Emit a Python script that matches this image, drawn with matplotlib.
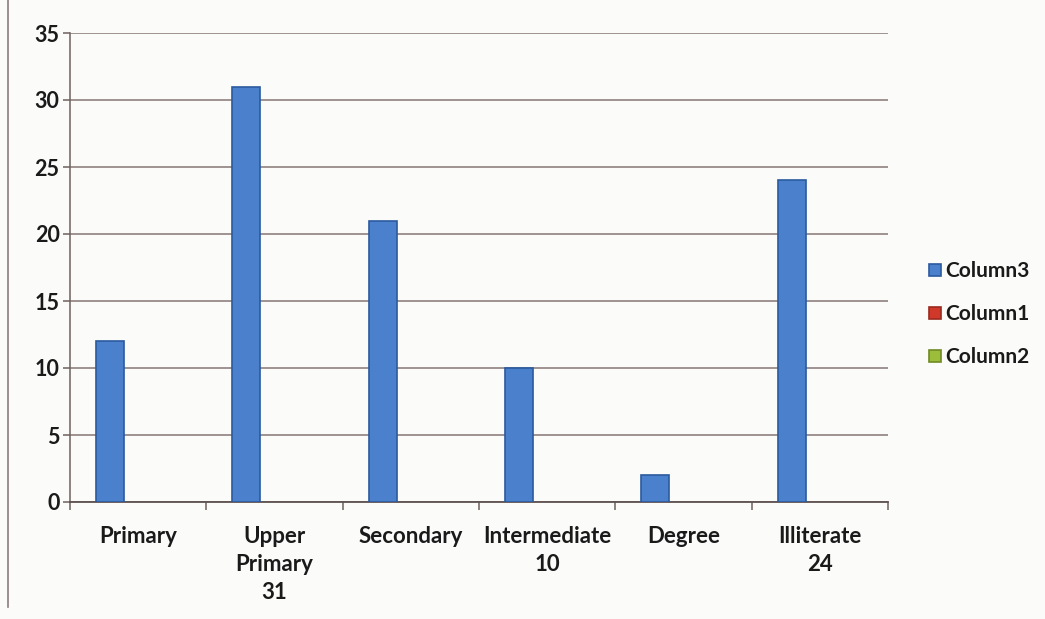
import matplotlib
matplotlib.use("Agg")
import matplotlib.pyplot as plt
from matplotlib.patches import Patch
import numpy as np

# Education level distribution
categories = ["Primary", "Upper\nPrimary\n31", "Secondary", "Intermediate\n10", "Degree", "Illiterate\n24"]
column3 = [12, 31, 21, 10, 2, 24]
column1 = [0, 0, 0, 0, 0, 0]
column2 = [0, 0, 0, 0, 0, 0]
series_names = ["Column3", "Column1", "Column2"]
yticks = [0, 5, 10, 15, 20, 25, 30, 35]

plt.rcParams["font.family"] = ["Lato", "DejaVu Sans"]

fig = plt.figure(figsize=(10.45, 6.19), dpi=100)
fig.patch.set_facecolor("#fbfbfa")
ax = fig.add_axes([70 / 1045, 1 - 502 / 619, 818 / 1045, 469 / 619])
ax.set_facecolor("#fbfbfa")

x = np.arange(len(categories))
w = 0.206
colors = ["#4a80cc", "#d0392a", "#9cbd3a"]
edges = ["#2b5a9e", "#9a2a1e", "#6f8a26"]
for i, vals in enumerate([column3, column1, column2]):
    bars = ax.bar(x - w + i * w, vals, width=w, color=colors[i], edgecolor=edges[i],
                  linewidth=1.2, zorder=3)
    for b, v in zip(bars, vals):
        if v == 0:
            b.set_visible(False)

ax.set_xlim(-0.5, len(categories) - 0.5)
ax.set_ylim(0, 35)
ax.set_yticks(yticks)
ax.set_yticklabels([str(v) for v in yticks], fontsize=15.5, fontweight="bold", color="#1a1a1a")
ax.yaxis.grid(True, color="#857674", linewidth=1.1, zorder=0)
ax.set_axisbelow(True)

ax.set_xticks(x)
ax.set_xticklabels(categories, fontsize=16, fontweight="bold", color="#1a1a1a",
                   linespacing=1.42, va="top")
ax.tick_params(axis="x", length=0, pad=17)
ax.set_xticks(np.arange(-0.5, len(categories), 1), minor=True)
ax.tick_params(axis="x", which="minor", length=6, width=1.1, color="#6e6260", direction="out")
ax.tick_params(axis="y", length=5, width=1.1, color="#6e6260", pad=2.5)

for s in ["top", "right"]:
    ax.spines[s].set_visible(False)
ax.spines["left"].set_color("#6e6260")
ax.spines["left"].set_linewidth(1.1)
ax.spines["bottom"].set_color("#5e5250")
ax.spines["bottom"].set_linewidth(1.3)

handles = [Patch(facecolor=c, edgecolor=e, linewidth=1.2) for c, e in zip(colors, edges)]
leg = fig.legend(handles, series_names, loc="upper left",
                 bbox_to_anchor=(919 / 1045, 1 - 251 / 619), borderpad=0,
                 frameon=False, fontsize=15, handlelength=0.55, handleheight=0.55,
                 handletextpad=0.2, labelspacing=1.1)
for t in leg.get_texts():
    t.set_fontweight("bold")
    t.set_color("#1a1a1a")

# page border line at the left edge
fig.add_artist(plt.Line2D([8 / 1045, 8 / 1045], [0.02, 1.0], color="#8a7e7c", linewidth=1.2))

fig.savefig("out.png", dpi=100, facecolor=fig.get_facecolor())
